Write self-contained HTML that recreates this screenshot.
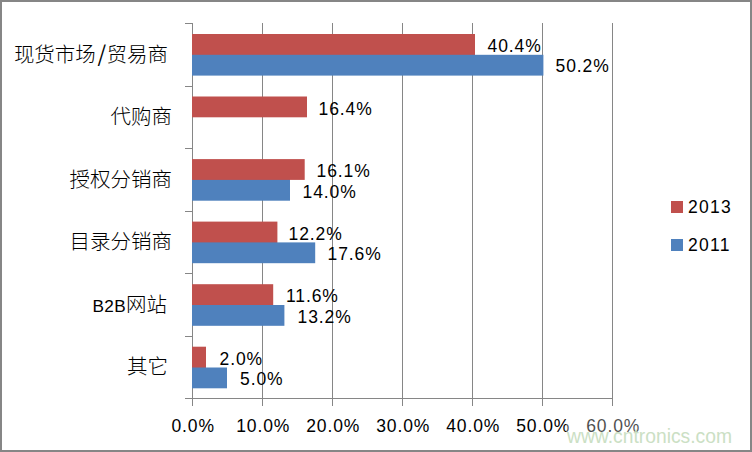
<!DOCTYPE html>
<html><head><meta charset="utf-8"><title>chart</title>
<style>
html,body{margin:0;padding:0;background:#fff;}
body{width:752px;height:452px;overflow:hidden;}
svg{display:block;}
.cat{font-family:"Liberation Sans","Noto Sans CJK SC",sans-serif;font-size:20.5px;font-weight:300;fill:#000;}
.v{font-family:"Liberation Sans",sans-serif;font-size:17.5px;letter-spacing:0.9px;fill:#000;}
.ax{font-family:"Liberation Sans",sans-serif;font-size:17.5px;letter-spacing:0.9px;fill:#000;}
.lg{font-family:"Liberation Sans",sans-serif;font-size:17.5px;letter-spacing:1.3px;fill:#000;}
.wm{font-family:"Liberation Sans",sans-serif;font-size:19.3px;fill:#cbe0c4;}
</style></head>
<body>
<svg width="752" height="452" viewBox="0 0 752 452">
<rect x="0" y="0" width="752" height="452" fill="#fff"/>
<rect x="1" y="1" width="750" height="450" fill="none" stroke="#868686" stroke-width="2"/>
<!-- gridlines -->
<g stroke="#868686" stroke-width="1">
<line x1="262.5" y1="23" x2="262.5" y2="406"/>
<line x1="332.5" y1="23" x2="332.5" y2="406"/>
<line x1="402.5" y1="23" x2="402.5" y2="406"/>
<line x1="472.5" y1="23" x2="472.5" y2="406"/>
<line x1="542.5" y1="23" x2="542.5" y2="406"/>
<line x1="612.5" y1="23" x2="612.5" y2="406"/>
</g>
<!-- axes -->
<g stroke="#868686" stroke-width="1">
<line x1="192.5" y1="23" x2="192.5" y2="406"/>
<line x1="185" y1="398.5" x2="613" y2="398.5"/>
<line x1="185" y1="23.5" x2="192" y2="23.5"/>
<line x1="185" y1="86.5" x2="192" y2="86.5"/>
<line x1="185" y1="148.5" x2="192" y2="148.5"/>
<line x1="185" y1="211.5" x2="192" y2="211.5"/>
<line x1="185" y1="273.5" x2="192" y2="273.5"/>
<line x1="185" y1="336.5" x2="192" y2="336.5"/>
</g>
<!-- bars -->
<g>
<rect x="192" y="34" width="283" height="21.6" fill="#c0504d"/>
<rect x="192" y="54.8" width="351.4" height="20.8" fill="#4f81bd"/>
<rect x="192" y="96.5" width="115" height="20.8" fill="#c0504d"/>
<rect x="192" y="159.1" width="112.7" height="20.8" fill="#c0504d"/>
<rect x="192" y="179" width="98" height="1.5" fill="#c0504d"/>
<rect x="192" y="179.9" width="98" height="20.8" fill="#4f81bd"/>
<rect x="192" y="221.6" width="85.4" height="21.6" fill="#c0504d"/>
<rect x="192" y="242.4" width="123.2" height="20.8" fill="#4f81bd"/>
<rect x="192" y="284.2" width="81.2" height="21.6" fill="#c0504d"/>
<rect x="192" y="305" width="92.4" height="20.8" fill="#4f81bd"/>
<rect x="192" y="346.7" width="14" height="21.6" fill="#c0504d"/>
<rect x="192" y="367.5" width="35" height="20.8" fill="#4f81bd"/>
</g>
<!-- category labels -->
<g class="cat" text-anchor="end">
<text x="168" y="62">现货市场<tspan dx="1.5" font-size="22" font-weight="400" style="font-family:'Noto Sans CJK SC',sans-serif">/</tspan><tspan dx="0.5">贸易商</tspan></text>
<text x="172" y="123.8">代购商</text>
<text x="172" y="186.6">授权分销商</text>
<text x="172" y="248.5">目录分销商</text>
<text x="167" y="312"><tspan font-size="17.2" letter-spacing="0.3">B2B</tspan>网站</text>
<text x="168" y="374.2">其它</text>
</g>
<!-- value labels -->
<g class="v">
<text x="487.5" y="51.6">40.4%</text>
<text x="555.5" y="72.4">50.2%</text>
<text x="318.5" y="115">16.4%</text>
<text x="316.5" y="176.8">16.1%</text>
<text x="302.5" y="197.9">14.0%</text>
<text x="288.5" y="239.8">12.2%</text>
<text x="327.5" y="259.7">17.6%</text>
<text x="286" y="301.8">11.6%</text>
<text x="297.5" y="322.7">13.2%</text>
<text x="219.5" y="364.9">2.0%</text>
<text x="240" y="384.6">5.0%</text>
</g>
<!-- x axis labels -->
<g class="ax" text-anchor="middle">
<text x="193.2" y="432">0.0%</text>
<text x="263.2" y="432">10.0%</text>
<text x="333.2" y="432">20.0%</text>
<text x="403.2" y="432">30.0%</text>
<text x="473.2" y="432">40.0%</text>
<text x="543.2" y="432">50.0%</text>
<text x="613.2" y="432">60.0%</text>
</g>
<!-- legend -->
<rect x="671" y="201" width="12" height="12" fill="#c0504d"/>
<rect x="671" y="239" width="12" height="12" fill="#4f81bd"/>
<g class="lg">
<text x="688" y="213">2013</text>
<text x="688" y="251">2011</text>
</g>
<rect x="566" y="415" width="172" height="34" fill="#fff" fill-opacity="0.3"/>
<text class="wm" x="567" y="442.5">www.cntronics.com</text>
</svg>
</body></html>
